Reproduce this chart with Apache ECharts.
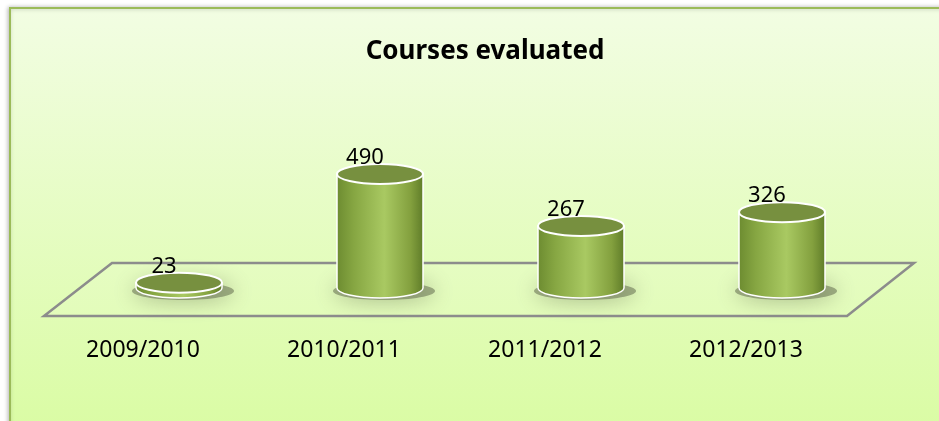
<!DOCTYPE html>
<html>
<head>
<meta charset="utf-8">
<script src="https://cdn.jsdelivr.net/npm/echarts@6/dist/echarts.min.js"></script>
<style>
  html, body { margin: 0; padding: 0; background: #fff; }
  #main { width: 939px; height: 421px; }
</style>
</head>
<body>
<div id="main"></div>
<script>
// data
var categories = ['2009/2010', '2010/2011', '2011/2012', '2012/2013'];
var courses = [23, 490, 267, 326];

var chart = echarts.init(document.getElementById('main'));

// cylinder with top ellipse, label on top and category under the floor
function renderCylinder(params, api) {
  var idx = api.value(0);
  var top = api.coord([idx, api.value(1)]);
  var base = api.coord([idx, 0]);
  var cx = top[0], rx = 43, ry = 10;
  var l = cx - rx, r = cx + rx;
  var body = 'M' + l + ' ' + top[1] + ' L' + l + ' ' + base[1] +
    ' A' + rx + ' ' + ry + ' 0 0 0 ' + r + ' ' + base[1] +
    ' L' + r + ' ' + top[1] + ' Z';
  return {
    type: 'group',
    children: [
      {
        type: 'ellipse',
        shape: { cx: cx + 4, cy: base[1] + 3, rx: rx + 8, ry: ry - 1 },
        style: { fill: 'rgba(100,110,80,0.55)', shadowBlur: 22, shadowColor: 'rgba(90,100,70,0.9)' }
      },
      {
        type: 'path',
        shape: { pathData: body },
        style: {
          fill: new echarts.graphic.LinearGradient(0, 0, 1, 0, [
            { offset: 0, color: '#6c8b30' },
            { offset: 0.2, color: '#86a642' },
            { offset: 0.55, color: '#a9c962' },
            { offset: 0.85, color: '#83a03e' },
            { offset: 1, color: '#5e7b28' }
          ]),
          stroke: '#ffffff',
          lineWidth: 1.5
        }
      },
      {
        type: 'ellipse',
        shape: { cx: cx, cy: top[1], rx: rx, ry: ry },
        style: { fill: '#77903f', stroke: '#ffffff', lineWidth: 2 }
      },
      {
        type: 'text',
        style: {
          x: cx - 15, y: top[1] - 16,
          text: String(api.value(1)),
          font: '22px "Noto Sans"',
          fill: '#000',
          align: 'center', verticalAlign: 'middle'
        }
      },
      {
        type: 'text',
        style: {
          x: cx - 36, y: base[1] + 62,
          text: categories[idx],
          font: '23px "Noto Sans"',
          fill: '#000',
          align: 'center', verticalAlign: 'middle'
        }
      }
    ]
  };
}

var option = {
  animation: false,
  backgroundColor: '#ffffff',
  title: {
    text: 'Courses evaluated',
    left: 480, top: 47,
    textAlign: 'center', textVerticalAlign: 'middle',
    textStyle: { fontFamily: 'Noto Sans', fontWeight: 'bold', fontSize: 26, color: '#000' }
  },
  graphic: [
    {
      type: 'rect', z: -10,
      shape: { x: 10, y: 8, width: 940, height: 420 },
      style: {
        fill: new echarts.graphic.LinearGradient(0, 0, 0, 1, [
          { offset: 0, color: '#f2fde3' },
          { offset: 1, color: '#dafca4' }
        ]),
        stroke: '#9bbb59', lineWidth: 2,
        shadowBlur: 4, shadowColor: 'rgba(0,0,0,0.25)', shadowOffsetX: -1
      }
    },
    {
      type: 'polygon', z: -5,
      shape: { points: [[44, 316], [847, 316], [914, 263], [112, 263]] },
      style: { fill: 'rgba(255,255,255,0.08)', stroke: '#8c8c8c', lineWidth: 2.5 }
    }
  ],
  grid: { left: 78.5, width: 804, top: 148.4, bottom: 133 },
  xAxis: {
    type: 'category', data: categories,
    axisLine: { show: false }, axisTick: { show: false }, axisLabel: { show: false }
  },
  yAxis: {
    type: 'value', min: 0, max: 600,
    show: false, splitLine: { show: false }
  },
  series: [{
    type: 'custom',
    renderItem: renderCylinder,
    data: courses.map(function (v, i) { return [i, v]; })
  }]
};

chart.setOption(option);
</script>
</body>
</html>
